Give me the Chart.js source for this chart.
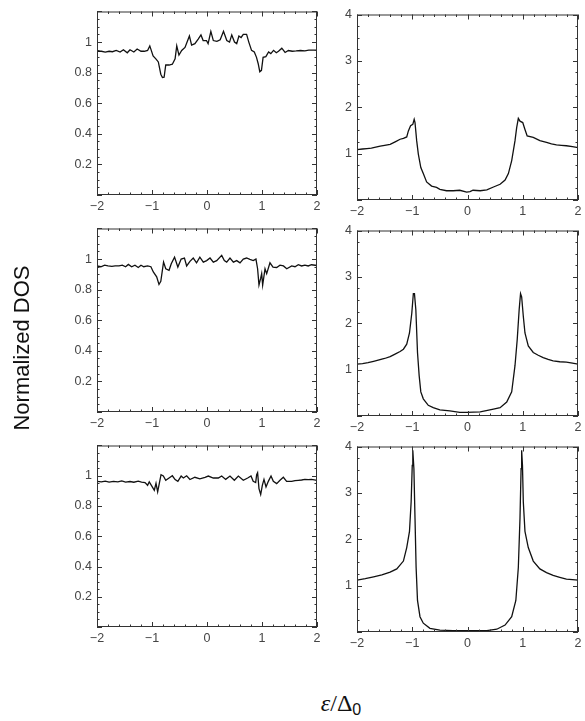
<!DOCTYPE html>
<html>
<head>
<meta charset="utf-8">
<script src="https://cdn.jsdelivr.net/npm/chart.js@4.4.1/dist/chart.umd.min.js"></script>
<style>
  body { margin: 0; background: #fff; }
  #page { position: relative; width: 585px; height: 721px; overflow: hidden; }
  canvas { position: absolute; }
  #ylabel {
    position: absolute; left: 22px; top: 348px;
    transform: translate(-50%, -50%) rotate(-90deg);
    font: 22px "Liberation Sans", Arial, sans-serif; color: #111; white-space: nowrap;
  }
  #xlabel {
    position: absolute; left: 341px; top: 704px; transform: translate(-50%, -50%);
    font: 24px "Liberation Serif", serif; color: #111; white-space: nowrap;
  }
  #xlabel sub { font: 16px "Liberation Sans", sans-serif; vertical-align: -4px; }
</style>
</head>
<body>
<div id="page">
  <canvas id="L1"></canvas><canvas id="R1"></canvas>
  <canvas id="L2"></canvas><canvas id="R2"></canvas>
  <canvas id="L3"></canvas><canvas id="R3"></canvas>
  <div id="ylabel">Normalized DOS</div>
  <div id="xlabel"><i>ε</i>/Δ<sub>0</sub></div>
</div>
<script>
// energy axis ticks, shared by all panels
const xTicks = [-2, -1, 0, 1, 2];
const leftYTicks = [0.2, 0.4, 0.6, 0.8, 1];
const rightYTicks = [1, 2, 3, 4];

// left column, row 1
const left1X = [-2.00,-1.92,-1.85,-1.78,-1.72,-1.65,-1.58,-1.52,-1.45,-1.40,-1.33,-1.27,-1.20,-1.14,-1.08,-1.04,-0.98,-0.93,-0.885,-0.84,-0.81,-0.78,-0.75,-0.69,-0.63,-0.58,-0.55,-0.51,-0.46,-0.40,-0.32,-0.28,-0.22,-0.16,-0.11,-0.07,-0.01,0.02,0.07,0.115,0.18,0.24,0.30,0.36,0.41,0.45,0.50,0.54,0.58,0.62,0.66,0.72,0.76,0.81,0.86,0.90,0.93,0.96,0.99,1.02,1.07,1.12,1.16,1.21,1.26,1.30,1.36,1.42,1.48,1.55,1.62,1.70,1.78,1.85,1.92,2.00];
const left1Y = [0.94,0.94,0.935,0.94,0.937,0.945,0.935,0.95,0.93,0.95,0.935,0.955,0.94,0.94,0.945,0.975,0.91,0.89,0.87,0.79,0.768,0.77,0.85,0.85,0.855,0.89,0.975,0.915,0.945,0.965,1.04,0.98,0.99,1.02,1.047,1.01,1.01,0.99,1.07,1.01,1.005,1.015,1.07,1.01,1.0,1.047,1.0,0.99,1.04,1.03,1.05,1.05,1.0,0.946,0.935,0.9,0.86,0.806,0.815,0.9,0.905,0.935,0.925,0.946,0.93,0.94,0.96,0.932,0.945,0.94,0.942,0.945,0.943,0.948,0.947,0.948];

// left column, row 2
const left2X = [-2.00,-1.93,-1.86,-1.80,-1.73,-1.67,-1.60,-1.54,-1.48,-1.43,-1.37,-1.31,-1.25,-1.20,-1.15,-1.08,-1.02,-0.976,-0.915,-0.873,-0.84,-0.79,-0.75,-0.69,-0.65,-0.59,-0.53,-0.47,-0.41,-0.37,-0.31,-0.25,-0.19,-0.13,-0.067,-0.006,0.055,0.115,0.176,0.267,0.315,0.358,0.418,0.48,0.54,0.60,0.66,0.72,0.78,0.84,0.89,0.92,0.945,0.976,0.994,1.012,1.055,1.085,1.145,1.20,1.267,1.327,1.39,1.45,1.54,1.60,1.66,1.72,1.78,1.84,1.90,2.00];
const left2Y = [0.955,0.95,0.96,0.955,0.952,0.955,0.955,0.96,0.95,0.965,0.95,0.96,0.945,0.96,0.95,0.955,0.95,0.916,0.884,0.834,0.855,0.98,0.937,0.927,0.97,1.013,0.948,1.0,1.007,0.955,0.985,1.007,0.976,1.013,0.98,0.99,1.007,0.98,0.99,1.024,0.99,0.98,1.007,0.98,0.99,0.975,1.0,1.007,0.998,0.99,1.0,0.937,0.83,0.875,0.905,0.83,0.937,0.905,0.976,0.948,0.945,0.96,0.955,0.937,0.955,0.95,0.963,0.955,0.96,0.955,0.963,0.958];

// left column, row 3
const left3X = [-2.00,-1.92,-1.85,-1.78,-1.70,-1.62,-1.55,-1.48,-1.40,-1.33,-1.25,-1.19,-1.127,-1.08,-1.05,-1.006,-0.958,-0.927,-0.897,-0.867,-0.836,-0.794,-0.75,-0.69,-0.63,-0.58,-0.53,-0.47,-0.43,-0.37,-0.31,-0.22,-0.13,-0.036,0.024,0.115,0.206,0.267,0.34,0.418,0.497,0.57,0.66,0.74,0.80,0.84,0.885,0.903,0.92,0.945,0.976,1.006,1.036,1.073,1.115,1.164,1.206,1.267,1.327,1.388,1.448,1.54,1.60,1.66,1.72,1.78,1.84,1.90,2.00];
const left3Y = [0.963,0.96,0.965,0.958,0.963,0.96,0.966,0.958,0.962,0.957,0.964,0.958,0.955,0.937,0.96,0.933,0.904,0.95,0.894,0.95,1.007,0.998,0.97,0.985,1.0,0.975,0.963,0.998,0.985,1.0,0.975,0.99,0.98,0.99,0.998,0.985,0.985,0.998,0.976,0.998,0.97,0.998,0.97,0.985,0.998,0.963,0.955,1.007,1.02,0.915,0.876,0.937,0.976,0.926,0.963,0.998,0.963,0.948,0.97,0.99,0.963,0.963,0.968,0.97,0.972,0.976,0.974,0.976,0.97];

// right column, row 1
const right1X = [-2.00,-1.90,-1.82,-1.74,-1.66,-1.58,-1.50,-1.40,-1.30,-1.22,-1.16,-1.10,-1.07,-1.03,-0.99,-0.965,-0.95,-0.92,-0.89,-0.845,-0.80,-0.74,-0.65,-0.56,-0.50,-0.38,-0.26,-0.14,-0.015,0.045,0.10,0.23,0.35,0.47,0.59,0.68,0.74,0.80,0.86,0.89,0.92,0.95,1.00,1.04,1.08,1.19,1.31,1.43,1.52,1.61,1.70,1.79,1.90,2.00];
const right1Y = [1.085,1.10,1.11,1.12,1.14,1.16,1.18,1.20,1.26,1.31,1.33,1.36,1.49,1.60,1.63,1.74,1.67,1.28,0.99,0.70,0.57,0.39,0.30,0.27,0.23,0.20,0.20,0.21,0.17,0.18,0.21,0.20,0.22,0.28,0.34,0.43,0.57,0.85,1.28,1.56,1.76,1.70,1.67,1.52,1.38,1.35,1.28,1.24,1.21,1.19,1.18,1.17,1.15,1.13];

// right column, row 2
const right2X = [-2.00,-1.90,-1.80,-1.70,-1.60,-1.50,-1.40,-1.32,-1.22,-1.16,-1.10,-1.05,-1.008,-0.98,-0.96,-0.935,-0.905,-0.875,-0.845,-0.80,-0.71,-0.62,-0.50,-0.32,-0.14,-0.015,0.23,0.47,0.59,0.71,0.80,0.86,0.90,0.935,0.96,0.98,1.01,1.04,1.10,1.19,1.28,1.37,1.46,1.55,1.67,1.79,1.90,2.00];
const right2Y = [1.12,1.13,1.15,1.18,1.21,1.24,1.28,1.33,1.39,1.44,1.55,1.79,2.22,2.64,2.64,2.29,1.37,0.87,0.52,0.37,0.23,0.18,0.13,0.11,0.08,0.08,0.09,0.15,0.18,0.30,0.52,1.09,1.65,2.29,2.64,2.57,2.15,1.79,1.51,1.37,1.31,1.26,1.22,1.19,1.17,1.16,1.14,1.12];

// right column, row 3
const right3X = [-2.00,-1.85,-1.70,-1.55,-1.40,-1.28,-1.16,-1.10,-1.05,-1.02,-1.00,-0.99,-0.97,-0.95,-0.93,-0.905,-0.86,-0.80,-0.68,-0.50,-0.26,0.00,0.35,0.53,0.68,0.80,0.875,0.92,0.95,0.97,0.98,0.995,1.01,1.04,1.10,1.19,1.31,1.43,1.55,1.67,1.79,1.90,2.00];
const right3Y = [1.12,1.15,1.19,1.23,1.29,1.36,1.53,1.82,2.17,2.81,3.59,3.92,3.52,2.45,1.39,0.68,0.33,0.19,0.08,0.04,0.03,0.03,0.03,0.06,0.15,0.33,0.68,1.39,2.45,3.52,3.92,3.59,2.81,2.17,1.82,1.53,1.36,1.28,1.22,1.18,1.14,1.13,1.12];

const Y_AXIS_W = 40, PAD_TOP = 10, PAD_RIGHT = 8, X_AXIS_H = 22;
const tickFont = { family: '"Liberation Sans", Arial, sans-serif', size: 12.5 };

// frame with inward ticks on all four sides, like a Mathematica Frame
const frameTicks = {
  id: 'frameTicks',
  afterDraw(chart, args, opts) {
    const { ctx, chartArea: a, scales } = chart;
    const xs = scales.x, ys = scales.y;
    ctx.save();
    ctx.strokeStyle = '#333';
    ctx.lineWidth = 1;
    ctx.strokeRect(a.left + 0.5, a.top + 0.5, a.right - a.left - 1, a.bottom - a.top - 1);
    ctx.beginPath();
    for (let v = xs.min; v <= xs.max + 1e-9; v += opts.xMinor) {
      const major = Math.abs(v - Math.round(v / opts.xMajor) * opts.xMajor) < 1e-6;
      const len = major ? 5 : 2.5;
      const px = Math.round(xs.getPixelForValue(v)) + 0.5;
      ctx.moveTo(px, a.bottom); ctx.lineTo(px, a.bottom - len);
      ctx.moveTo(px, a.top); ctx.lineTo(px, a.top + len);
    }
    for (let v = ys.min; v <= ys.max + 1e-9; v += opts.yMinor) {
      const major = Math.abs(v - Math.round(v / opts.yMajor) * opts.yMajor) < 1e-6;
      const len = major ? 5 : 2.5;
      const py = Math.round(ys.getPixelForValue(v)) + 0.5;
      ctx.moveTo(a.left, py); ctx.lineTo(a.left + len, py);
      ctx.moveTo(a.right, py); ctx.lineTo(a.right - len, py);
    }
    ctx.stroke();
    ctx.restore();
  }
};

function makePanel(id, area, xVals, yVals, yMax, yLabels, yMajor, yMinor) {
  const cv = document.getElementById(id);
  const w = area.right - area.left + Y_AXIS_W + PAD_RIGHT;
  const h = area.bottom - area.top + PAD_TOP + X_AXIS_H;
  cv.width = w; cv.height = h;
  cv.style.left = (area.left - Y_AXIS_W) + 'px';
  cv.style.top = (area.top - PAD_TOP) + 'px';

  new Chart(cv, {
    type: 'line',
    data: {
      datasets: [{
        data: xVals.map((x, i) => ({ x: x, y: yVals[i] })),
        borderColor: '#111',
        borderWidth: 1.3,
        pointRadius: 0,
        tension: 0,
        fill: false
      }]
    },
    options: {
      responsive: false,
      animation: false,
      devicePixelRatio: 1,
      layout: { padding: { top: PAD_TOP, right: PAD_RIGHT, left: 0, bottom: 0 } },
      plugins: {
        legend: { display: false },
        tooltip: { enabled: false },
        frameTicks: { xMajor: 1, xMinor: 0.2, yMajor: yMajor, yMinor: yMinor }
      },
      scales: {
        x: {
          type: 'linear', min: -2, max: 2,
          afterFit: s => { s.height = X_AXIS_H; },
          afterBuildTicks: s => { s.ticks = xTicks.map(v => ({ value: v })); },
          grid: { display: false, drawTicks: false },
          border: { display: false },
          ticks: {
            padding: 4, color: '#444', font: tickFont, maxRotation: 0,
            callback: v => String(v).replace('-', '\u2212')
          }
        },
        y: {
          min: 0, max: yMax,
          afterFit: s => { s.width = Y_AXIS_W; },
          afterBuildTicks: s => { s.ticks = yLabels.map(v => ({ value: v })); },
          grid: { display: false, drawTicks: false },
          border: { display: false },
          ticks: {
            padding: 5, color: '#444', font: tickFont,
            callback: v => String(+v.toFixed(1))
          }
        }
      }
    },
    plugins: [frameTicks]
  });
}

makePanel('L1', { left: 97, right: 317, top: 9, bottom: 195 }, left1X, left1Y, 1.2, leftYTicks, 0.2, 0.05);
makePanel('L2', { left: 97, right: 317, top: 226, bottom: 412 }, left2X, left2Y, 1.2, leftYTicks, 0.2, 0.05);
makePanel('L3', { left: 97, right: 317, top: 443, bottom: 627 }, left3X, left3Y, 1.2, leftYTicks, 0.2, 0.05);
makePanel('R1', { left: 357, right: 578, top: 12, bottom: 200 }, right1X, right1Y, 4, rightYTicks, 1, 0.25);
makePanel('R2', { left: 357, right: 578, top: 228, bottom: 416 }, right2X, right2Y, 4, rightYTicks, 1, 0.25);
makePanel('R3', { left: 357, right: 578, top: 444, bottom: 632 }, right3X, right3Y, 4, rightYTicks, 1, 0.25);
</script>
</body>
</html>
